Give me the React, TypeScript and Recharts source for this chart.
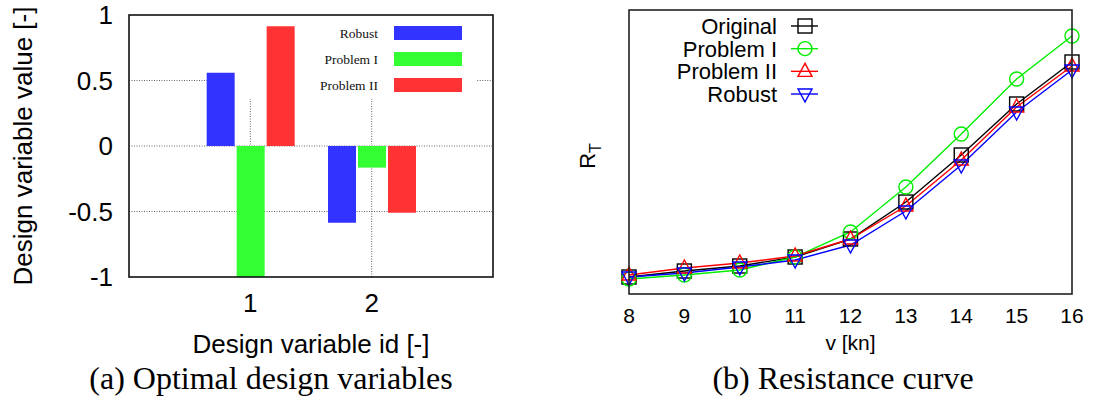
import React from 'react';
import { BarChart, Bar, XAxis, YAxis, ReferenceLine, LineChart, Line } from 'recharts';

// (a) optimal design variables
const DESIGN_IDS = [1, 2];
const ROBUST_VALUES = [0.56, -0.585];
const PROBLEM1_VALUES = [-1, -0.165];
const PROBLEM2_VALUES = [0.915, -0.51];
const VALUE_TICKS = [-1, -0.5, 0, 0.5, 1];

// (b) resistance curve (no scale on the R_T axis, values are relative)
const SPEEDS = [8, 9, 10, 11, 12, 13, 14, 15, 16];
const ORIGINAL_RT = [17, 23, 28, 37, 55, 92, 139, 190, 232];
const PROBLEM1_RT = [15, 19, 24, 37, 62, 107, 160, 215, 258];
const PROBLEM2_RT = [19, 26, 31, 38, 55, 88, 134, 187, 228];
const ROBUST_RT = [17, 21, 27, 34, 49, 83, 129, 182, 224];

const SANS = '"Liberation Sans", Arial, Helvetica, sans-serif';
const SERIF = '"Liberation Serif", "Times New Roman", serif';

const BAR_SERIES = [
  { key: 'robust', name: 'Robust', color: '#3333ff' },
  { key: 'p1', name: 'Problem I', color: '#33ff33' },
  { key: 'p2', name: 'Problem II', color: '#ff3333' },
];

const LINE_SERIES = [
  { key: 'original', name: 'Original', color: '#000000', shape: 'square' },
  { key: 'p1', name: 'Problem I', color: '#00ee00', shape: 'circle' },
  { key: 'p2', name: 'Problem II', color: '#ff0000', shape: 'up' },
  { key: 'robust', name: 'Robust', color: '#0000ff', shape: 'down' },
];

// plot boxes in page pixels
const LEFT_PLOT = { x: 129, y: 15, w: 364, h: 262 };
const RIGHT_X = 560;
const RIGHT_PLOT = { x: 629, y: 10, w: 443, h: 284 };

// opaque key box of the bar chart hides part of the grid (data units)
const KEY_BOX = { x1: 0.75, x2: 2.87, yBottom: 0.36 };

const barData = DESIGN_IDS.map((id, i) => ({
  id,
  robust: ROBUST_VALUES[i],
  p1: PROBLEM1_VALUES[i],
  p2: PROBLEM2_VALUES[i],
}));

const lineData = SPEEDS.map((v, i) => ({
  v,
  original: ORIGINAL_RT[i],
  p1: PROBLEM1_RT[i],
  p2: PROBLEM2_RT[i],
  robust: ROBUST_RT[i],
}));

function Marker({ shape, cx, cy, color }: any) {
  const s = 7;
  const common = { fill: 'none', stroke: color, strokeWidth: 1.4 };
  if (shape === 'square') return <rect x={cx - s} y={cy - s} width={2 * s} height={2 * s} {...common} />;
  if (shape === 'circle') return <circle cx={cx} cy={cy} r={s} {...common} />;
  if (shape === 'up')
    return <polygon points={`${cx},${cy - s - 1} ${cx - s},${cy + 5} ${cx + s},${cy + 5}`} {...common} />;
  return <polygon points={`${cx},${cy + s + 1} ${cx - s},${cy - 5} ${cx + s},${cy - 5}`} {...common} />;
}

const makeDot = (shape: string, color: string) => (props: any) => {
  const { cx, cy, index } = props;
  return (
    <g key={`${shape}-${index}`}>
      <Marker shape={shape} cx={cx} cy={cy} color={color} />
    </g>
  );
};

// axis titles positioned from the axis viewBox
const XTitle = ({ viewBox, text, dy, size }: any) => {
  if (!viewBox) return null;
  return (
    <text x={viewBox.x + viewBox.width / 2} y={viewBox.y + dy} textAnchor="middle" fontSize={size} fontFamily={SANS} fill="#000">
      {text}
    </text>
  );
};

const YTitle = ({ viewBox, dx }: any) => {
  if (!viewBox) return null;
  const x = viewBox.x + dx;
  const y = viewBox.y + viewBox.height / 2;
  return (
    <text transform={`translate(${x}, ${y}) rotate(-90)`} textAnchor="middle" fontSize={26} fontFamily={SANS} fill="#000">
      Design variable value [-]
    </text>
  );
};

const RtTitle = ({ viewBox }: any) => {
  if (!viewBox) return null;
  const x = viewBox.x + 6;
  const y = viewBox.y + viewBox.height / 2;
  return (
    <text transform={`translate(${x}, ${y + 4}) rotate(-90)`} textAnchor="middle" fontSize={22} fontFamily={SANS} fill="#000">
      R
      <tspan fontSize={16} dy={6}>T</tspan>
    </text>
  );
};

const gridStyle = { stroke: '#666', strokeWidth: 1, strokeDasharray: '1 1.5' };

function DesignChart() {
  return (
    <BarChart
      width={520}
      height={360}
      data={barData}
      margin={{ top: LEFT_PLOT.y, right: 520 - LEFT_PLOT.x - LEFT_PLOT.w, bottom: 23, left: 29 }}
      barSize={28}
      barGap={2}
    >
      <XAxis
        dataKey="id"
        type="number"
        domain={[0, 3]}
        ticks={DESIGN_IDS}
        allowDataOverflow
        height={60}
        axisLine={false}
        tickLine={false}
        tickMargin={11}
        tick={{ fontSize: 26, fill: '#000', fontFamily: SANS }}
        label={<XTitle text="Design variable id [-]" dy={76} size={26} />}
      />
      <YAxis
        domain={[-1, 1]}
        ticks={VALUE_TICKS}
        interval={0}
        allowDataOverflow
        width={100}
        axisLine={false}
        tickLine={false}
        tickMargin={10}
        tick={{ fontSize: 26, fill: '#000', fontFamily: SANS }}
        label={<YTitle dx={3} />}
      />
      <ReferenceLine y={0} {...gridStyle} zIndex={-50} />
      <ReferenceLine y={-0.5} {...gridStyle} zIndex={-50} />
      <ReferenceLine segment={[{ x: 0, y: 0.5 }, { x: KEY_BOX.x1, y: 0.5 }]} {...gridStyle} zIndex={-50} />
      <ReferenceLine segment={[{ x: KEY_BOX.x2, y: 0.5 }, { x: 3, y: 0.5 }]} {...gridStyle} zIndex={-50} />
      {DESIGN_IDS.map((id) => (
        <ReferenceLine key={id} segment={[{ x: id, y: -1 }, { x: id, y: KEY_BOX.yBottom }]} {...gridStyle} zIndex={-50} />
      ))}
      {BAR_SERIES.map((s) => (
        <Bar key={s.key} dataKey={s.key} fill={s.color} isAnimationActive={false} />
      ))}
    </BarChart>
  );
}

function ResistanceChart() {
  return (
    <LineChart
      width={533}
      height={360}
      data={lineData}
      margin={{ top: RIGHT_PLOT.y, right: 1093 - RIGHT_PLOT.x - RIGHT_PLOT.w, bottom: 16, left: 29 }}
    >
      <XAxis
        dataKey="v"
        type="number"
        domain={[8, 16]}
        ticks={SPEEDS}
        interval={0}
        height={50}
        axisLine={false}
        tickLine={false}
        tickMargin={8}
        tick={{ fontSize: 21, fill: '#000', fontFamily: SANS }}
        label={<XTitle text="v [kn]" dy={56} size={21} />}
      />
      <YAxis domain={[0, 284]} width={40} tick={false} axisLine={false} tickLine={false} label={<RtTitle />} />
      {LINE_SERIES.map((s) => (
        <Line
          key={s.key}
          dataKey={s.key}
          stroke={s.color}
          strokeWidth={1.4}
          dot={makeDot(s.shape, s.color)}
          activeDot={false}
          isAnimationActive={false}
        />
      ))}
    </LineChart>
  );
}

export default function App() {
  return (
    <div style={{ position: 'absolute', left: 0, top: 0, width: 1093, height: 398, background: '#fff', overflow: 'hidden' }}>
      <div style={{ position: 'absolute', left: 0, top: 0 }}>
        <DesignChart />
      </div>
      <div style={{ position: 'absolute', left: RIGHT_X, top: 0 }}>
        <ResistanceChart />
      </div>
      <svg width={1093} height={398} style={{ position: 'absolute', left: 0, top: 0, pointerEvents: 'none' }}>
        <rect x={LEFT_PLOT.x} y={LEFT_PLOT.y} width={LEFT_PLOT.w} height={LEFT_PLOT.h} fill="none" stroke="#111" strokeWidth={1.6} />
        <rect x={RIGHT_PLOT.x} y={RIGHT_PLOT.y} width={RIGHT_PLOT.w} height={RIGHT_PLOT.h} fill="none" stroke="#222" strokeWidth={1.6} />

        {BAR_SERIES.map((s, i) => (
          <g key={s.key}>
            <text x={378} y={38 + i * 26} textAnchor="end" fontSize={13.5} fontFamily={SERIF} fill="#111">
              {s.name}
            </text>
            <rect x={394} y={26 + i * 26} width={68} height={14} fill={s.color} />
          </g>
        ))}

        {LINE_SERIES.map((s, i) => {
          const cy = 26 + i * 22.67;
          return (
            <g key={s.key}>
              <text x={777} y={cy + 8} textAnchor="end" fontSize={22} fontFamily={SANS} fill="#000">
                {s.name}
              </text>
              <line x1={791} x2={818} y1={cy} y2={cy} stroke={s.color} strokeWidth={1.4} />
              <Marker shape={s.shape} cx={805} cy={cy} color={s.color} />
            </g>
          );
        })}

        <text x={271} y={389} textAnchor="middle" fontSize={32} fontFamily={SERIF} fill="#000">
          (a) Optimal design variables
        </text>
        <text x={843} y={389} textAnchor="middle" fontSize={32} fontFamily={SERIF} fill="#000">
          (b) Resistance curve
        </text>
      </svg>
    </div>
  );
}
